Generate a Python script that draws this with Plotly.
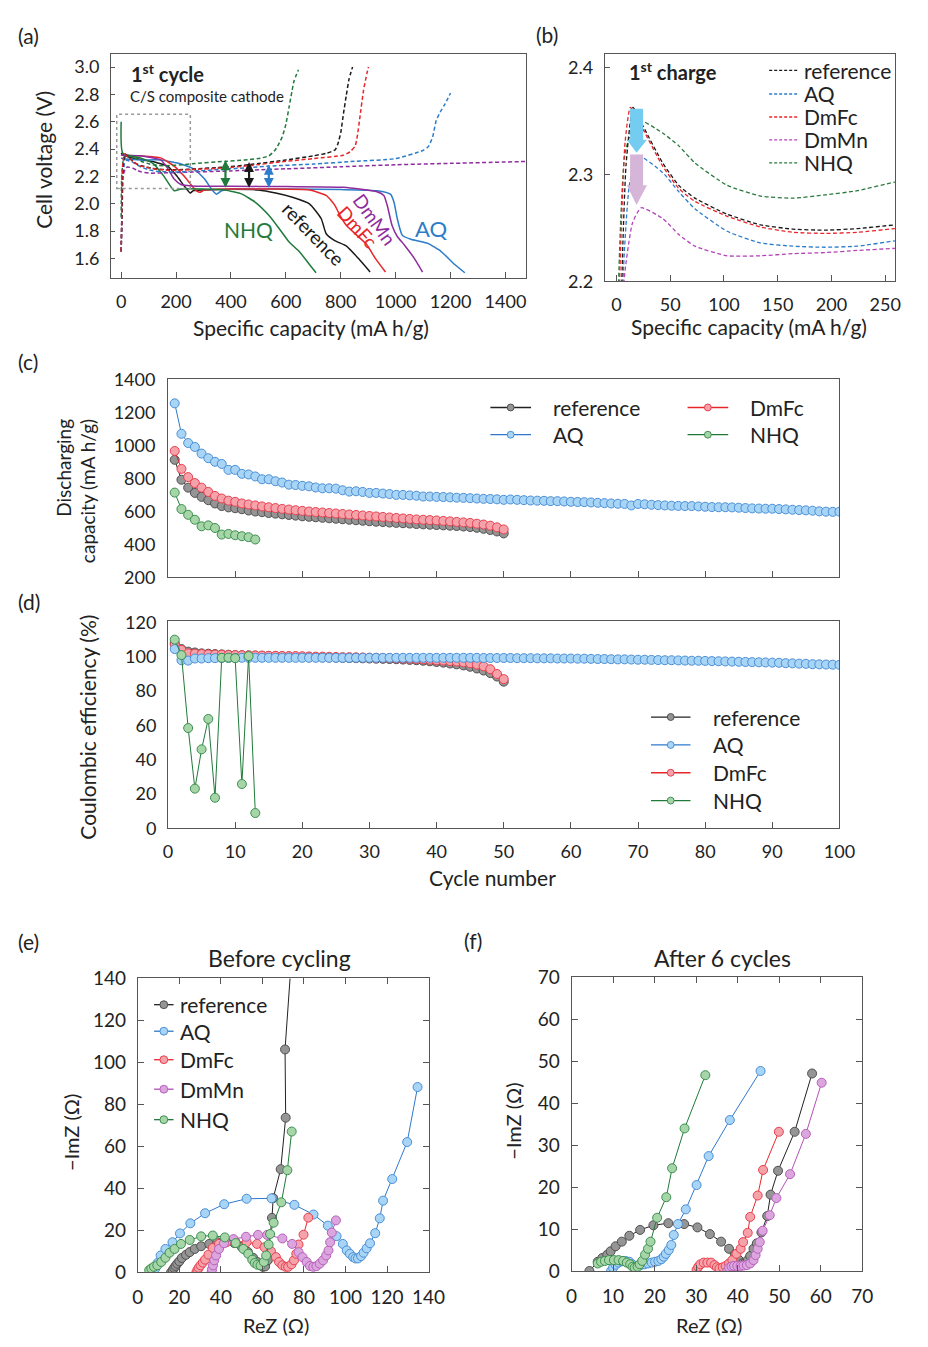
import plotly.graph_objects as go

PAGE_W, PAGE_H = 928, 1347
BODY = 8                      # default body margin of the page
W, H = PAGE_W - 2 * BODY, PAGE_H - 2 * BODY
FONT = "Lato"

# ---------------- (a) first cycle: discharge (solid) ----------------
a_ref_dis_x = [0, 5, 30, 80, 130, 169, 200, 230, 252, 262, 300, 400, 500, 563, 624, 686, 729, 747, 778, 821, 864, 907]
a_ref_dis_y = [2.37, 2.36, 2.34, 2.32, 2.30, 2.275, 2.21, 2.13, 2.078, 2.095, 2.10, 2.105, 2.10, 2.078, 2.047, 1.999, 1.89, 1.78, 1.73, 1.69, 1.60, 1.50]
a_aq_dis_x = [0, 5, 70, 144, 218, 267, 304, 329, 347, 366, 415, 600, 800, 932, 981, 994, 1006, 1024, 1055, 1117, 1166, 1215, 1252]
a_aq_dis_y = [2.335, 2.33, 2.32, 2.32, 2.29, 2.25, 2.18, 2.107, 2.07, 2.095, 2.107, 2.107, 2.103, 2.095, 2.07, 2.01, 1.89, 1.77, 1.74, 1.71, 1.65, 1.555, 1.495]
a_fc_dis_x = [0, 5, 70, 144, 193, 230, 273, 286, 304, 400, 550, 686, 747, 778, 797, 821, 858, 895, 926, 963]
a_fc_dis_y = [2.36, 2.355, 2.35, 2.335, 2.275, 2.2, 2.095, 2.083, 2.10, 2.107, 2.107, 2.10, 2.06, 1.99, 1.915, 1.84, 1.77, 1.70, 1.60, 1.50]
a_mn_dis_x = [0, 5, 70, 144, 169, 193, 218, 255, 400, 600, 809, 932, 957, 969, 987, 1006, 1031, 1068, 1098]
a_mn_dis_y = [2.36, 2.355, 2.35, 2.32, 2.26, 2.18, 2.14, 2.13, 2.128, 2.125, 2.12, 2.087, 2.06, 1.99, 1.84, 1.76, 1.70, 1.60, 1.50]
a_nhq_dis_x = [0, 6, 70, 119, 156, 193, 218, 300, 378, 440, 489, 538, 575, 612, 649, 686, 710]
a_nhq_dis_y = [2.6, 2.37, 2.335, 2.29, 2.20, 2.095, 2.107, 2.107, 2.10, 2.07, 2.01, 1.915, 1.82, 1.72, 1.65, 1.555, 1.495]

# ---------------- (a)/(b) first cycle: charge (dashed) ----------------
ref_chg_x = [0, 3, 5, 9, 15.5, 25, 43, 58, 73, 103, 134, 164, 194, 224, 259, 378, 466, 600, 700, 750, 780, 790, 800, 810, 820, 830, 843]
ref_chg_y = [1.65, 1.95, 2.2, 2.31, 2.363, 2.345, 2.311, 2.29, 2.278, 2.263, 2.253, 2.249, 2.248, 2.2495, 2.253, 2.268, 2.285, 2.32, 2.35, 2.37, 2.395, 2.44, 2.52, 2.66, 2.79, 2.91, 3.0]
aq_chg_x = [0, 3, 6, 12, 20, 43, 58, 73, 103, 134, 164, 194, 224, 259, 400, 538, 700, 850, 1000, 1100, 1120, 1135, 1148, 1165, 1180, 1200]
aq_chg_y = [1.65, 1.95, 2.2, 2.29, 2.318, 2.302, 2.284, 2.268, 2.247, 2.236, 2.233, 2.232, 2.233, 2.238, 2.255, 2.275, 2.29, 2.31, 2.33, 2.39, 2.42, 2.49, 2.61, 2.68, 2.73, 2.81]
fc_chg_x = [0, 2, 3, 8, 13, 25, 43, 58, 73, 103, 134, 164, 194, 224, 259, 378, 466, 600, 700, 809, 834, 852, 860, 870, 883, 895, 901]
fc_chg_y = [1.65, 1.9, 2.2, 2.33, 2.363, 2.342, 2.308, 2.287, 2.275, 2.261, 2.251, 2.246, 2.245, 2.246, 2.2495, 2.262, 2.278, 2.31, 2.33, 2.355, 2.38, 2.42, 2.49, 2.635, 2.83, 2.95, 3.0]
mn_chg_x = [0, 4, 7, 15, 23, 43, 58, 73, 103, 134, 164, 194, 224, 259, 400, 600, 800, 1000, 1200, 1500]
mn_chg_y = [1.65, 1.95, 2.2, 2.255, 2.269, 2.259, 2.244, 2.233, 2.224, 2.224, 2.226, 2.227, 2.229, 2.231, 2.24, 2.255, 2.27, 2.285, 2.295, 2.31]
nhq_chg_x = [0, 2, 8, 19, 43, 58, 73, 103, 134, 164, 194, 224, 259, 380, 450, 500, 538, 560, 575, 587, 600, 612, 622, 630, 646]
nhq_chg_y = [1.9, 2.2, 2.32, 2.352, 2.339, 2.327, 2.311, 2.29, 2.28, 2.278, 2.281, 2.285, 2.293, 2.31, 2.32, 2.33, 2.35, 2.39, 2.44, 2.49, 2.58, 2.71, 2.82, 2.9, 2.98]

# ---------------- (c) discharging capacity ----------------
c_ref = [913, 792, 744, 712, 688, 668, 648, 632, 624, 619, 613, 605, 599, 595, 590, 586, 582, 578, 574, 570,
         567, 564, 561, 558, 555, 552, 549, 546, 543, 540, 537, 535, 532, 530, 528, 526, 523, 521, 519, 517,
         515, 513, 511, 508, 505, 500, 494, 487, 478, 466]
c_aq = [1256, 1071, 1015, 991, 951, 923, 901, 888, 852, 852, 828, 824, 812, 795, 795, 783, 775, 762, 760, 755,
        752, 745, 740, 740, 738, 728, 720, 722, 718, 712, 712, 708, 705, 700, 700, 697, 695, 690, 690, 688,
        687, 685, 683, 682, 680, 678, 676, 675, 673, 670, 672, 670, 668, 666, 665, 664, 662, 662, 660, 658,
        657, 656, 654, 652, 650, 648, 646, 645, 636, 645, 643, 640, 638, 636, 634, 633, 632, 632, 630, 628,
        626, 625, 625, 624, 622, 620, 618, 617, 616, 616, 614, 612, 610, 608, 606, 604, 600, 598, 597, 598]
c_fc = [967, 858, 808, 772, 744, 718, 694, 678, 665, 658, 648, 642, 636, 630, 625, 620, 615, 611, 607, 603,
        599, 596, 593, 590, 587, 584, 581, 578, 575, 572, 569, 566, 563, 560, 557, 554, 551, 549, 547, 545,
        542, 539, 536, 533, 530, 525, 520, 513, 503, 490]
c_nhq = [714, 614, 579, 549, 509, 515, 499, 459, 463, 455, 449, 443, 429]

# ---------------- (d) coulombic efficiency ----------------
d_ref = [108, 104.5, 103, 102.5, 102, 101.8, 101.6, 101.4, 101.2, 101, 100.9, 100.8, 100.7, 100.6, 100.5, 100.4, 100.3, 100.2, 100.1, 100,
         99.9, 99.8, 99.7, 99.6, 99.5, 99.4, 99.3, 99.2, 99.1, 99, 98.9, 98.8, 98.7, 98.6, 98.4, 98.2, 98, 97.7, 97.4, 97,
         96.6, 96.1, 95.6, 95, 94.2, 93.2, 92, 90.5, 88.5, 85.5]
d_aq = [104.5, 98, 97.8, 99, 99, 99.2, 99.2, 99.3, 99.3, 99.3, 99.4, 99.4, 99.4, 99.4, 99.4, 99.4, 99.4, 99.4, 99.4, 99.4,
        99.4, 99.4, 99.4, 99.4, 99.4, 99.4, 99.4, 99.4, 99.4, 99.4, 99.4, 99.4, 99.4, 99.4, 99.4, 99.4, 99.4, 99.4, 99.4, 99.4,
        99.4, 99.4, 99.4, 99.4, 99.4, 99.4, 99.3, 99.3, 99.3, 99.3, 99.3, 99.2, 99.2, 99.2, 99.1, 99.1, 99.1, 99.0, 99.0, 99.0,
        98.9, 98.9, 98.8, 98.7, 98.7, 98.6, 98.5, 98.5, 98.4, 98.3, 98.3, 98.2, 98.1, 98.0, 98.0, 97.9, 97.8, 97.7, 97.7, 97.6,
        97.5, 97.4, 97.3, 97.2, 97.1, 97.0, 96.9, 96.8, 96.7, 96.6, 96.5, 96.3, 96.2, 96.0, 95.9, 95.7, 95.6, 95.5, 95.4, 95.3]
d_fc = [107, 104, 102, 101.8, 101.6, 101.4, 101.3, 101.2, 101.1, 101, 100.9, 100.8, 100.8, 100.7, 100.6, 100.6, 100.5, 100.4, 100.4, 100.3,
        100.2, 100.1, 100.1, 100, 99.9, 99.8, 99.8, 99.7, 99.6, 99.5, 99.4, 99.3, 99.2, 99.1, 99.0, 98.8, 98.7, 98.5, 98.3, 98.0,
        97.8, 97.5, 97.2, 96.8, 96.2, 95.5, 94.5, 92.8, 90, 87]
d_nhq = [110, 101, 58.5, 23.2, 46.1, 63.8, 17.9, 99.4, 99.5, 99.2, 25.9, 100.4, 9]

# ---------------- (e) EIS before cycling ----------------
e_ref_x = [16, 16.8, 17.5, 18.2, 19, 20, 21.2, 23.2, 25, 27.4, 30.5, 34.4, 38.3, 42.5, 46.5, 50, 53, 55.5, 57.5, 59, 60.2, 61.3, 62.6, 64.6, 65.2, 68.8, 71.2, 70.9, 74]
e_ref_y = [0, 1.1, 2.2, 3.1, 4.2, 5.3, 6.9, 8.4, 9.7, 11.2, 12.5, 13.6, 14.4, 14.6, 14, 12.2, 9.8, 7, 5, 3.7, 2.7, 2.9, 5.8, 26, 35.4, 49.2, 73.7, 106.2, 150]
e_aq_x = [7.5, 8.5, 9.5, 11, 13.3, 16.7, 20.3, 25.3, 32.4, 41.6, 52.4, 64.4, 75.4, 84.6, 91.5, 95.7, 98.7, 100.6, 102.1, 103.7, 104.8, 106, 107.5, 108.7, 110.2, 111.8, 114.3, 116.5, 118.1, 122.5, 129.7, 134.7]
e_aq_y = [0, 2, 4.5, 8.1, 11.2, 14.4, 18.6, 23.4, 28.2, 32.5, 35.1, 35.3, 32.2, 27.6, 22.3, 17.3, 13.6, 10.5, 8.9, 7.3, 6.7, 6.7, 7.8, 9.4, 11.5, 13.9, 18.7, 25.8, 34.2, 44.5, 62.1, 88.3]
e_fc_x = [28.2, 28.7, 29.3, 30.2, 31.3, 32.4, 34, 36.1, 39.1, 42.7, 46.9, 52.4, 57.4, 61, 64.1, 66.5, 68, 69.6, 71.2, 72.4, 74, 75.2, 76.3, 77.4, 79.8, 82.1]
e_fc_y = [0, 1.1, 2.2, 3.4, 4.7, 6.1, 8.5, 11.7, 13.6, 14.4, 14.8, 14.4, 13.6, 12, 10.1, 7.3, 5, 3.4, 2.7, 2.7, 3.9, 5.8, 8.9, 13.3, 18, 26.1]
e_mn_x = [35.5, 35.7, 36.2, 36.8, 37.7, 39.1, 41.5, 46.1, 52.1, 57.9, 62.3, 69.6, 74.3, 77.4, 79.3, 81.3, 82.9, 84.5, 86, 87.6, 89.2, 90.7, 91.8, 92.6, 93.4, 95.4]
e_mn_y = [0, 1.4, 3.4, 5.8, 8.1, 11.2, 13.9, 15.9, 17, 17.9, 17.9, 16.2, 13.6, 9.7, 7.3, 5, 3.1, 2.7, 3, 4.2, 5.8, 8.1, 10.5, 14.4, 19, 24.8]
e_nhq_x = [5.5, 6.5, 7.8, 9.4, 11.3, 13.3, 15.3, 17.7, 20.8, 25, 30.5, 36.1, 41.9, 47.1, 50.8, 53.2, 55.1, 56.3, 57.6, 59.1, 60.7, 61.8, 63, 63.7, 65.4, 69.1, 72, 74.1]
e_nhq_y = [1.1, 1.9, 2.7, 3.4, 5, 7, 9.4, 11.2, 13.6, 15.5, 17.2, 17.6, 16.7, 14, 11.2, 8.9, 6.1, 4.5, 3.7, 3.4, 5, 8.1, 13.3, 18.3, 23.7, 33.4, 48.7, 67.1]

# ---------------- (f) EIS after 6 cycles ----------------
f_ref_x = [4.3, 6.3, 7.4, 8.6, 9.4, 10.6, 12.1, 13.9, 16.5, 19.7, 23.3, 27.1, 30.3, 33.3, 36, 37.9, 39.3, 40.3, 41.1, 41.7, 42.4, 43, 43.8, 44.6, 45.7, 47.1, 47.9, 49.7, 53.7, 57.9]
f_ref_y = [0, 2.2, 3.1, 3.9, 4.7, 5.9, 7, 8.4, 9.8, 10.9, 11.4, 11.2, 10.4, 8.8, 7, 5.3, 3.9, 2.6, 1.8, 1.8, 2.6, 3.6, 5.3, 6.6, 9.2, 13.1, 18.2, 23.9, 33.2, 47.1]
f_aq_x = [9.5, 10, 10.6, 11.3, 12.1, 13, 13.9, 14.6, 15.2, 15.8, 16.6, 17.5, 18.4, 19.3, 20.1, 20.9, 21.6, 22.2, 22.7, 23.4, 24.0, 24.6, 25.6, 27.5, 30.1, 33, 38.1, 45.5]
f_aq_y = [0, 0.8, 1.5, 2, 2.3, 2.4, 2.2, 1.6, 1, 1.1, 1.4, 1.6, 1.8, 2, 2.2, 2.4, 2.8, 3.4, 4.1, 5, 6.2, 8.6, 11.2, 14.7, 20.5, 27.4, 36, 47.7]
f_fc_x = [30.1, 30.5, 31, 31.8, 32.7, 33.6, 34.4, 35, 35.6, 36.4, 37.1, 37.9, 38.7, 39.7, 40.7, 41.3, 42.4, 43, 44.8, 46.1, 49.9]
f_fc_y = [0.3, 1, 1.6, 2, 2, 2, 1.4, 0.9, 0.6, 0.9, 1.2, 1.8, 2.6, 4.1, 5.3, 6.9, 9.1, 12.9, 18, 24.1, 33.2]
f_mn_x = [37.5, 37.9, 38.5, 39.1, 39.9, 40.7, 41.4, 42.2, 43, 43.8, 44.3, 44.8, 45.3, 46, 47.7, 49.3, 52.6, 56.4, 60.2]
f_mn_y = [0, 0.8, 1.1, 1.2, 1.2, 1.2, 1.3, 1.4, 1.8, 2.6, 3.8, 5.3, 6.9, 9.6, 13.3, 17.4, 23.1, 32.7, 44.9]
f_nhq_x = [6.3, 7.1, 8, 9, 10.2, 11.3, 12.4, 13.3, 14.1, 14.7, 15.2, 15.9, 16.4, 17, 17.7, 18.4, 19, 20.6, 22.8, 24.2, 27.2, 32.2]
f_nhq_y = [1.8, 2.2, 2.4, 2.6, 2.6, 2.6, 2.4, 2, 1.6, 1, 0.8, 1, 1.6, 2.4, 3.9, 5.3, 7, 12.7, 17.6, 24.5, 34, 46.7]

# ---------------- styles ----------------
LINE = {"reference": "#1a1a1a", "AQ": "#2b7cc9", "DmFc": "#e8262a", "DmMn": "#8e2c9e", "NHQ": "#1f7a3c"}
LINE_B = {"reference": "#1a1a1a", "AQ": "#2b7cc9", "DmFc": "#e8262a", "DmMn": "#b443b8", "NHQ": "#2a7a3e"}
MFILL = {"reference": "#959595", "AQ": "#a8d5f6", "DmFc": "#f6a2aa", "DmMn": "#dba6de", "NHQ": "#a6d6a8"}
MEDGE = {"reference": "#505050", "AQ": "#4a8fd6", "DmFc": "#e8404e", "DmMn": "#b860bc", "NHQ": "#3d8f50"}
MLINE = {"reference": "#222222", "AQ": "#2f78cc", "DmFc": "#e8262a", "DmMn": "#b450b8", "NHQ": "#217a3a"}
DASH = "4px,2.5px"

# page pixel -> paper fraction (figure sits inside the default 8px body margin)
def PX(x):
    return (x - BODY) / W

def PY(y):
    return 1 - (y - BODY) / H

fig = go.Figure()

def line_trace(x, y, color, xa, ya, dash=None, width=1.5):
    fig.add_trace(go.Scatter(x=x, y=y, mode="lines", xaxis=xa, yaxis=ya,
                             line=dict(color=color, width=width, dash=dash, shape="spline", smoothing=0.5),
                             hoverinfo="skip", showlegend=False))

def marker_trace(x, y, name, xa, ya, size=10, lw=1):
    fig.add_trace(go.Scatter(x=x, y=y, mode="lines+markers", xaxis=xa, yaxis=ya,
                             line=dict(color=MLINE[name], width=lw),
                             marker=dict(size=size, color=MFILL[name], line=dict(color=MEDGE[name], width=1)),
                             hoverinfo="skip", showlegend=False))

# (a)
for x, y, n in [(a_ref_dis_x, a_ref_dis_y, "reference"), (a_aq_dis_x, a_aq_dis_y, "AQ"),
                (a_fc_dis_x, a_fc_dis_y, "DmFc"), (a_mn_dis_x, a_mn_dis_y, "DmMn"),
                (a_nhq_dis_x, a_nhq_dis_y, "NHQ")]:
    line_trace(x, y, LINE[n], "x", "y")
for x, y, n in [(mn_chg_x, mn_chg_y, "DmMn"), (aq_chg_x, aq_chg_y, "AQ"), (nhq_chg_x, nhq_chg_y, "NHQ"),
                (ref_chg_x, ref_chg_y, "reference"), (fc_chg_x, fc_chg_y, "DmFc")]:
    line_trace(x, y, LINE[n], "x", "y", dash=DASH)

# (b)
for x, y, n in [(mn_chg_x, mn_chg_y, "DmMn"), (aq_chg_x, aq_chg_y, "AQ"), (nhq_chg_x, nhq_chg_y, "NHQ"),
                (ref_chg_x, ref_chg_y, "reference"), (fc_chg_x, fc_chg_y, "DmFc")]:
    line_trace(x, y, LINE_B[n], "x2", "y2", dash=DASH, width=1.3)

# (c)
cyc = lambda arr: list(range(1, len(arr) + 1))
for arr, n in [(c_ref, "reference"), (c_fc, "DmFc"), (c_aq, "AQ"), (c_nhq, "NHQ")]:
    marker_trace(cyc(arr), arr, n, "x3", "y3", size=9)

# (d)
for arr, n in [(d_ref, "reference"), (d_fc, "DmFc"), (d_aq, "AQ"), (d_nhq, "NHQ")]:
    marker_trace(cyc(arr), arr, n, "x4", "y4", size=9)

# (e)
for x, y, n in [(e_ref_x, e_ref_y, "reference"), (e_aq_x, e_aq_y, "AQ"), (e_fc_x, e_fc_y, "DmFc"),
                (e_mn_x, e_mn_y, "DmMn"), (e_nhq_x, e_nhq_y, "NHQ")]:
    marker_trace(x, y, n, "x5", "y5", size=9)

# (f)
for x, y, n in [(f_ref_x, f_ref_y, "reference"), (f_aq_x, f_aq_y, "AQ"), (f_fc_x, f_fc_y, "DmFc"),
                (f_mn_x, f_mn_y, "DmMn"), (f_nhq_x, f_nhq_y, "NHQ")]:
    marker_trace(x, y, n, "x6", "y6", size=9)

# ---------------- axes ----------------
def axis(lo, hi, rng, tickvals, ticktext=None, ticks="inside", labels=True, mirror=True,
         fontsize=18, standoff=6, anchor=None, ticklen=6):
    d = dict(domain=[lo, hi], range=rng, tickvals=tickvals, ticks=ticks, ticklen=ticklen,
             tickcolor="#555", tickwidth=1, showline=True, linecolor="#555", linewidth=1,
             mirror=mirror, showgrid=False, zeroline=False, showticklabels=labels,
             tickfont=dict(size=fontsize, color="#222", family=FONT),
             ticklabelstandoff=standoff, fixedrange=True, anchor=anchor)
    if ticktext is not None:
        d["ticktext"] = ticktext
    return d

geo = {
    1: (107.5, 533, 42.5, 271),
    2: (614, 911.7, 42.7, 274),
    3: (166, 854.8, 373.3, 575),
    4: (166, 854.8, 619.3, 830.7),
    5: (135, 433.3, 983.3, 1282.5),
    6: (580, 878.3, 982.3, 1281),
}
def xd(i):
    l, r, t, b = geo[i]
    return PX(l), PX(r)
def yd(i):
    l, r, t, b = geo[i]
    return PY(b), PY(t)

vt = [1.6, 1.8, 2.0, 2.2, 2.4, 2.6, 2.8, 3.0]
lay = dict(
    xaxis=axis(*xd(1), [-37, 1474], list(range(0, 1401, 200)), anchor="y", standoff=7),
    yaxis=axis(*yd(1), [1.453, 3.096], vt, ["%.1f" % v for v in vt], anchor="x", standoff=7, ticklen=4),
    xaxis2=axis(*xd(2), [-10.9, 259], [0, 50, 100, 150, 200, 250], anchor="y2", standoff=7),
    yaxis2=axis(*yd(2), [2.2, 2.413], [2.2, 2.3, 2.4], ["2.2", "2.3", "2.4"], anchor="x2", standoff=7, ticklen=5),
    xaxis3=axis(*xd(3), [0, 100], list(range(10, 100, 10)), labels=False, anchor="y3"),
    yaxis3=axis(*yd(3), [200, 1404], list(range(200, 1401, 200)), ticks="", anchor="x3", fontsize=18, standoff=8),
    xaxis4=axis(*xd(4), [0, 100], list(range(0, 101, 10)), anchor="y4", standoff=7),
    yaxis4=axis(*yd(4), [0, 121], list(range(0, 121, 20)), ticks="", anchor="x4", standoff=7),
    xaxis5=axis(*xd(5), [0, 140], list(range(0, 141, 20)), mirror="ticks", anchor="y5", standoff=8, fontsize=19),
    yaxis5=axis(*yd(5), [0, 140], list(range(0, 141, 20)), mirror="ticks", anchor="x5", standoff=7, fontsize=19),
    xaxis6=axis(*xd(6), [0, 70], list(range(0, 71, 10)), mirror="ticks", anchor="y6", standoff=8, fontsize=19),
    yaxis6=axis(*yd(6), [0, 70], list(range(0, 71, 10)), mirror="ticks", anchor="x6", standoff=7, fontsize=19),
)

annotations = []
shapes = []

def text(x, y, s, size=19, color="#222", xanchor="center", yanchor="middle", angle=0, align="center"):
    annotations.append(dict(x=PX(x), y=PY(y), xref="paper", yref="paper", text=s, showarrow=False,
                            xanchor=xanchor, yanchor=yanchor, textangle=angle, align=align,
                            font=dict(size=size, color=color, family=FONT)))

def dtext(x, y, s, xa, ya, size=19, color="#222", angle=0, xanchor="center"):
    annotations.append(dict(x=x, y=y, xref=xa, yref=ya, text=s, showarrow=False, textangle=angle,
                            xanchor=xanchor, yanchor="middle", font=dict(size=size, color=color, family=FONT)))

# panel letters
for s, x, y in [("(a)", 10, 24), ("(b)", 541, 23), ("(c)", 10, 355), ("(d)", 10, 600), ("(e)", 10, 946), ("(f)", 468, 945)]:
    text(x, y, s, size=21, xanchor="left")

# axis titles
text(38, 150, "Cell voltage (V)", size=21, angle=-90)
text(313, 321, "Specific capacity (mA h/g)", size=21)
text(762, 320, "Specific capacity (mA h/g)", size=21)
text(71, 487, "Discharging<br>capacity (mA h/g)", size=19, angle=-90, align="right")
text(83, 728, "Coulombic efficiency (%)", size=21, angle=-90)
text(499, 881, "Cycle number", size=21)
text(280, 962, "Before cycling", size=23)
text(735, 962, "After 6 cycles", size=23)
text(277, 1336, "ReZ (Ω)", size=20)
text(721, 1336, "ReZ (Ω)", size=20)
text(67, 1140, "−ImZ (Ω)", size=20, angle=-90)
text(520, 1129, "−ImZ (Ω)", size=20, angle=-90)

# (a) in-plot text
text(126, 62, "<b>1<sup>st</sup> cycle</b>", size=20, xanchor="left")
text(125, 85, "C/S composite cathode", size=15, xanchor="left")
dtext(464, 1.81, "NHQ", "x", "y", size=21, color=LINE["NHQ"])
dtext(1129, 1.82, "AQ", "x", "y", size=22, color=LINE["AQ"])
dtext(700, 1.78, "reference", "x", "y", size=19, color=LINE["reference"], angle=46)
dtext(860, 1.83, "DmFc", "x", "y", size=19, color=LINE["DmFc"], angle=48)
dtext(925, 1.885, "DmMn", "x", "y", size=19, color=LINE["DmMn"], angle=54)

# (a) double arrows
for xv, col, top in [(380, LINE["NHQ"], 2.318), (466, LINE["reference"], 2.305), (538, LINE["AQ"], 2.285)]:
    annotations.append(dict(x=xv, y=top, ax=xv, ay=2.105, xref="x", yref="y", axref="x", ayref="y",
                            showarrow=True, arrowhead=2, arrowside="end+start", arrowsize=0.9,
                            arrowwidth=2.2, arrowcolor=col, text=""))

# (a) dotted zoom box
shapes.append(dict(type="rect", xref="x", yref="y", x0=-16, x1=252, y0=2.111, y1=2.654,
                   line=dict(color="#9a9a9a", width=1.5, dash="dot")))

# (b) text and arrows
text(637, 60, "<b>1<sup>st</sup> charge</b>", size=20, xanchor="left")
shapes.append(dict(type="path", xref="x2", yref="y2",
                   path="M 12.7,2.3618 L 24.8,2.3618 L 24.8,2.3327 L 28.4,2.3327 L 18.7,2.3205 L 9.7,2.3327 L 12.7,2.3327 Z",
                   fillcolor="#74cdf0", line=dict(width=0)))
shapes.append(dict(type="path", xref="x2", yref="y2",
                   path="M 12.7,2.319 L 24.8,2.319 L 24.8,2.290 L 28.4,2.290 L 18.7,2.2716 L 9.7,2.290 L 12.7,2.290 Z",
                   fillcolor="#d6b6d8", line=dict(width=0)))

# ---------------- manual legends ----------------
def leg_line(x0, x1, y, color, dash=None, width=1.3):
    shapes.append(dict(type="line", xref="paper", yref="paper", x0=PX(x0), x1=PX(x1), y0=PY(y), y1=PY(y),
                       line=dict(color=color, width=width, dash=dash)))

def leg_marker(cx, cy, r, fill, edge):
    shapes.append(dict(type="circle", xref="paper", yref="paper", x0=PX(cx - r), x1=PX(cx + r),
                       y0=PY(cy + r), y1=PY(cy - r), fillcolor=fill, line=dict(color=edge, width=1)))

# (b) legend
for n, y in zip(["reference", "AQ", "DmFc", "DmMn", "NHQ"], [59.3, 83.3, 106.7, 130, 153.3]):
    leg_line(782.7, 813.3, y, LINE_B[n], dash="3px,2px", width=1.3)
    text(816.7, y, n, size=21, xanchor="left")

# (c) legend
for n, x0, y in [("reference", 496.7, 402.3), ("AQ", 496.7, 430), ("DmFc", 699, 402.3), ("NHQ", 699, 430)]:
    leg_line(x0, x0 + 41.7, y, MLINE[n], width=1.3)
    leg_marker(x0 + 20.8, y, 3.5, MFILL[n], MEDGE[n])
    text(x0 + 62.3, y, n, size=21, xanchor="left")

# (d) legend
for n, y in zip(["reference", "AQ", "DmFc", "NHQ"], [717.3, 745.7, 774, 802.3]):
    leg_line(661.5, 702, y, MLINE[n], width=1.3)
    leg_marker(681.7, y, 3.5, MFILL[n], MEDGE[n])
    text(722.8, y, n, size=21, xanchor="left")

# (e) legend
for n, y in zip(["reference", "AQ", "DmFc", "DmMn", "NHQ"], [1010, 1037, 1066, 1096, 1127]):
    leg_line(151.7, 171.7, y, MLINE[n], width=1.3)
    leg_marker(161.7, y, 4, MFILL[n], MEDGE[n])
    text(176.7, y, n, size=21, xanchor="left")

fig.update_layout(
    width=W, height=H, margin=dict(l=0, r=0, t=0, b=0),
    paper_bgcolor="white", plot_bgcolor="white", showlegend=False,
    font=dict(family=FONT, color="#222"),
    annotations=annotations, shapes=shapes, **lay,
)

fig.write_html("out.html", config={"displayModeBar": False, "staticPlot": True})
